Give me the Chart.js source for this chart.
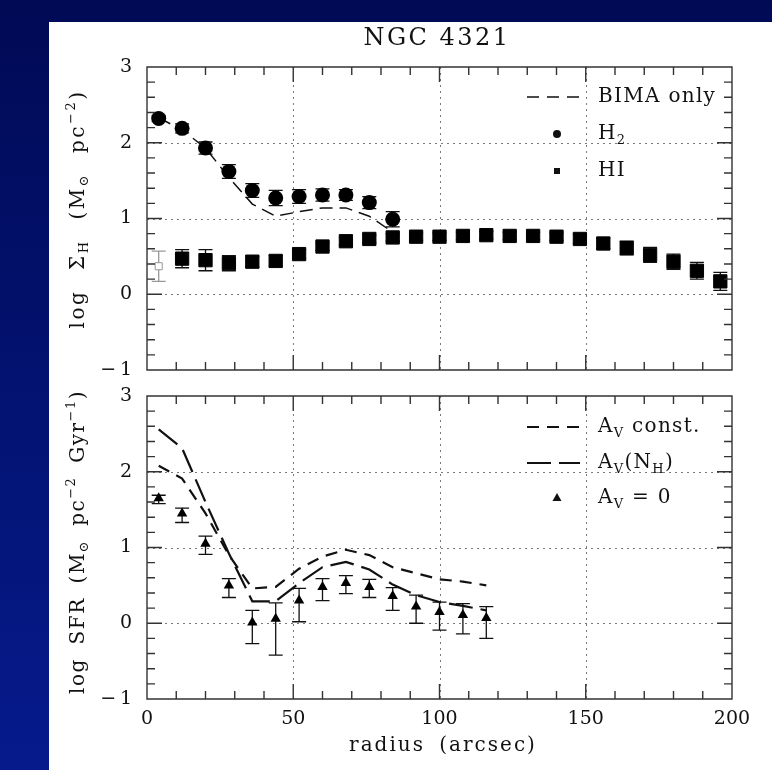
<!DOCTYPE html>
<html>
<head>
<meta charset="utf-8">
<title>NGC 4321</title>
<script src="https://cdn.jsdelivr.net/npm/chart.js@4.4.1/dist/chart.umd.min.js"></script>
<style>
  html, body { margin: 0; padding: 0; }
  body {
    width: 772px; height: 770px; position: relative; overflow: hidden;
    background: linear-gradient(to bottom, #000a55 0%, #061a8c 100%);
  }
  #sheet { position: absolute; left: 49px; top: 22px; right: 0; bottom: 0; background: #fff; }
  canvas { position: absolute; left: 0; top: 0; }
  .lbl {
    position: absolute; white-space: nowrap; color: #111;
    font-family: "DejaVu Serif", serif; transform: translate(-50%, -50%);
  }
  .ytitle { font-size: 20px; letter-spacing: 1.5px; word-spacing: 6px; transform: translate(-50%, -50%) rotate(-90deg); }
  .lbl sub, .lbl sup { font-size: 65%; line-height: 0; }
  .lbl sub { vertical-align: -0.3em; }
  .lbl sup { vertical-align: 0.7em; }
</style>
</head>
<body>
<div id="sheet"></div>
<canvas id="gasChart" width="772" height="770"></canvas>
<canvas id="sfrChart" width="772" height="770"></canvas>

<div class="lbl" style="left:437px; top:37px; font-size:24px; letter-spacing:2.5px;">NGC 4321</div>
<div class="lbl ytitle" style="left:77px; top:209px; letter-spacing:2.5px; word-spacing:11px;">log Σ<sub>H</sub> (M<sub>⊙</sub> pc<sup>−2</sup>)</div>
<div class="lbl ytitle" style="left:77px; top:542px;">log SFR (M<sub>⊙</sub> pc<sup>−2</sup> Gyr<sup>−1</sup>)</div>
<div class="lbl" style="left:443px; top:744px; font-size:20px; letter-spacing:2px; word-spacing:6px;">radius (arcsec)</div>

<script>
// gas surface densities per radial bin (arcsec)
const radiusH2 = [4, 12, 20, 28, 36, 44, 52, 60, 68, 76, 84];
const h2 = [2.32, 2.19, 1.93, 1.62, 1.37, 1.27, 1.29, 1.31, 1.31, 1.21, 0.99];
const h2Err = [0.04, 0.06, 0.08, 0.09, 0.09, 0.10, 0.09, 0.08, 0.07, 0.08, 0.10];
const bimaOnly = [2.33, 2.17, 1.93, 1.54, 1.19, 1.03, 1.09, 1.14, 1.14, 1.03, 0.82];

const radiusHI = [4, 12, 20, 28, 36, 44, 52, 60, 68, 76, 84, 92, 100, 108, 116, 124, 132, 140, 148, 156, 164, 172, 180, 188, 196];
const hi = [0.37, 0.47, 0.45, 0.41, 0.43, 0.44, 0.53, 0.63, 0.70, 0.73, 0.75, 0.76, 0.76, 0.77, 0.78, 0.77, 0.77, 0.76, 0.73, 0.67, 0.61, 0.52, 0.43, 0.31, 0.17];
const hiErr = [0.20, 0.12, 0.14, 0.10, 0.07, 0.07, 0.06, 0.05, 0.05, 0.05, 0.05, 0.05, 0.05, 0.05, 0.05, 0.05, 0.05, 0.05, 0.06, 0.07, 0.09, 0.10, 0.10, 0.11, 0.12];

// star formation rate
const radiusSFR = [4, 12, 20, 28, 36, 44, 52, 60, 68, 76, 84, 92, 100, 108, 116];
const sfrAv0 = [1.65, 1.45, 1.05, 0.50, 0.01, 0.06, 0.30, 0.48, 0.53, 0.48, 0.36, 0.22, 0.15, 0.11, 0.07];
const sfrAv0Low = [1.58, 1.33, 0.91, 0.34, -0.27, -0.42, 0.02, 0.30, 0.39, 0.34, 0.17, 0.00, -0.09, -0.14, -0.20];
const sfrAv0High = [1.69, 1.52, 1.15, 0.59, 0.17, 0.27, 0.46, 0.59, 0.63, 0.58, 0.47, 0.37, 0.28, 0.26, 0.22];
const sfrAvConst = [2.08, 1.91, 1.45, 0.90, 0.46, 0.48, 0.72, 0.88, 0.97, 0.90, 0.74, 0.66, 0.58, 0.55, 0.50];
const sfrAvNH = [2.56, 2.31, 1.60, 0.92, 0.29, 0.29, 0.53, 0.74, 0.81, 0.71, 0.51, 0.37, 0.28, 0.23, 0.17];

const xTicks = [0, 50, 100, 150, 200];
const yTicks = [-1, 0, 1, 2, 3];

const FONT = '"DejaVu Serif", serif';
const pts = (xs, ys) => xs.map((x, i) => ({x, y: ys[i]}));

// dotted grid at the labelled values, then the frame with inward ticks on all sides
const frame = {
  id: 'frame',
  beforeDatasetsDraw(chart) {
    const {ctx, chartArea: a, scales: {x, y}} = chart;
    ctx.save();
    ctx.strokeStyle = '#7a7a7a';
    ctx.lineWidth = 1;
    ctx.setLineDash([2, 4]);
    ctx.beginPath();
    xTicks.slice(1, -1).forEach(v => {
      const px = Math.round(x.getPixelForValue(v)) + 0.5;
      ctx.moveTo(px, a.top); ctx.lineTo(px, a.bottom);
    });
    yTicks.slice(1, -1).forEach(v => {
      const py = Math.round(y.getPixelForValue(v)) + 0.5;
      ctx.moveTo(a.left, py); ctx.lineTo(a.right, py);
    });
    ctx.stroke();
    ctx.restore();
  },
  afterDatasetsDraw(chart) {
    const {ctx, chartArea: a, scales: {x, y}} = chart;
    ctx.save();
    ctx.strokeStyle = '#333';
    ctx.lineWidth = 1.4;
    ctx.beginPath();
    for (let v = 0; v <= 200; v += 10) {
      const px = x.getPixelForValue(v), len = v % 50 === 0 ? 15 : 8;
      ctx.moveTo(px, a.bottom); ctx.lineTo(px, a.bottom - len);
      ctx.moveTo(px, a.top); ctx.lineTo(px, a.top + len);
    }
    for (let k = -5; k <= 15; k++) {
      const py = y.getPixelForValue(k / 5), len = k % 5 === 0 ? 15 : 8;
      ctx.moveTo(a.left, py); ctx.lineTo(a.left + len, py);
      ctx.moveTo(a.right, py); ctx.lineTo(a.right - len, py);
    }
    ctx.rect(a.left, a.top, a.width, a.height);
    ctx.stroke();
    ctx.restore();
  }
};

// vertical error bars with caps, read from errLow / errHigh on each dataset
const errorBars = {
  id: 'errorBars',
  beforeDatasetsDraw(chart) {
    const {ctx, scales: {x, y}} = chart;
    ctx.save();
    ctx.lineWidth = 1.3;
    chart.data.datasets.forEach(ds => {
      if (!ds.errLow) return;
      ds.data.forEach((p, i) => {
        const px = x.getPixelForValue(p.x);
        const lo = y.getPixelForValue(ds.errLow[i]);
        const up = y.getPixelForValue(ds.errHigh[i]);
        ctx.strokeStyle = (ds.errColor && ds.errColor[i]) || '#111';
        ctx.beginPath();
        ctx.moveTo(px, lo); ctx.lineTo(px, up);
        ctx.moveTo(px - 7, lo); ctx.lineTo(px + 7, lo);
        ctx.moveTo(px - 7, up); ctx.lineTo(px + 7, up);
        ctx.stroke();
      });
    });
    ctx.restore();
  }
};

function drawRich(ctx, parts, x, y) {
  ctx.textBaseline = 'middle';
  ctx.textAlign = 'left';
  ctx.letterSpacing = '1.3px';
  parts.forEach(([t, sub]) => {
    ctx.font = (sub ? 13 : 20) + 'px ' + FONT;
    ctx.fillText(t, x, sub ? y + 7 : y);
    x += ctx.measureText(t).width;
  });
}

// key in the upper right corner of each panel
const keyBox = {
  id: 'keyBox',
  afterDraw(chart, args, opts) {
    const {ctx, chartArea: a} = chart;
    ctx.save();
    ctx.strokeStyle = ctx.fillStyle = '#111';
    opts.items.forEach(it => {
      const cy = a.top + it.dy, cx = a.left + 410;
      if (it.dash) {
        ctx.lineWidth = it.width;
        ctx.setLineDash(it.dash);
        ctx.beginPath();
        ctx.moveTo(a.left + 380, cy); ctx.lineTo(a.left + 433, cy);
        ctx.stroke();
        ctx.setLineDash([]);
      } else {
        ctx.beginPath();
        if (it.marker === 'circle') ctx.arc(cx, cy, 4, 0, Math.PI * 2);
        if (it.marker === 'rect') ctx.rect(cx - 3, cy - 3, 6, 6);
        if (it.marker === 'triangle') { ctx.moveTo(cx, cy - 5); ctx.lineTo(cx + 4.5, cy + 3); ctx.lineTo(cx - 4.5, cy + 3); ctx.closePath(); }
        ctx.fill();
      }
      drawRich(ctx, it.label, a.left + 451, cy);
    });
    ctx.restore();
  }
};

function axes(xHeight, showX) {
  return {
    x: {
      type: 'linear', min: 0, max: 200,
      grid: {display: false, drawTicks: false}, border: {display: false},
      afterBuildTicks: s => { s.ticks = xTicks.map(v => ({value: v})); },
      afterFit: s => { s.height = xHeight; },
      ticks: {display: showX, padding: 9, color: '#111', font: {family: FONT, size: 19}}
    },
    y: {
      type: 'linear', min: -1, max: 3,
      grid: {display: false, drawTicks: false}, border: {display: false},
      afterBuildTicks: s => { s.ticks = yTicks.map(v => ({value: v})); },
      afterFit: s => { s.width = 147; },
      ticks: {
        padding: 15, color: '#111', font: {family: FONT, size: 19},
        callback: v => v < 0 ? '\u2212\u2009' + Math.abs(v) : String(v)
      }
    }
  };
}

new Chart(document.getElementById('gasChart'), {
  type: 'scatter',
  data: {
    datasets: [
      {
        label: 'H2', data: pts(radiusH2, h2), order: 0,
        errLow: h2.map((v, i) => v - h2Err[i]), errHigh: h2.map((v, i) => v + h2Err[i]),
        pointStyle: 'circle', pointRadius: 7.5, backgroundColor: '#000', borderWidth: 0
      },
      {
        label: 'HI', data: pts(radiusHI, hi), order: 0,
        errLow: hi.map((v, i) => v - hiErr[i]), errHigh: hi.map((v, i) => v + hiErr[i]),
        errColor: radiusHI.map((r, i) => i === 0 ? '#999' : '#111'),
        pointStyle: 'rect',
        pointRadius: ctx => ctx.dataIndex === 0 ? 5 : 9.4,
        backgroundColor: ctx => ctx.dataIndex === 0 ? '#fff' : '#000',
        borderColor: ctx => ctx.dataIndex === 0 ? '#999' : '#000',
        borderWidth: 1
      },
      {
        label: 'BIMA only', data: pts(radiusH2, bimaOnly), order: 2,
        showLine: true, borderColor: '#111', borderWidth: 1.5, borderDash: [13, 7],
        pointRadius: 0, tension: 0
      }
    ]
  },
  options: {
    responsive: false, animation: false,
    layout: {padding: {top: 67, bottom: 400, left: 0, right: 40}},
    scales: axes(0, false),
    plugins: {
      legend: {display: false}, tooltip: {enabled: false},
      keyBox: {items: [
        {dy: 30, dash: [12, 8], width: 1.5, label: [['BIMA only']]},
        {dy: 67, marker: 'circle', label: [['H'], ['2', true]]},
        {dy: 104, marker: 'rect', label: [['HI']]}
      ]}
    }
  },
  plugins: [frame, errorBars, keyBox]
});

new Chart(document.getElementById('sfrChart'), {
  type: 'scatter',
  data: {
    datasets: [
      {
        label: 'Av = 0', data: pts(radiusSFR, sfrAv0), order: 0,
        errLow: sfrAv0Low, errHigh: sfrAv0High,
        pointStyle: 'triangle', pointRadius: 6, backgroundColor: '#000', borderWidth: 0
      },
      {
        label: 'Av const.', data: pts(radiusSFR, sfrAvConst), order: 2,
        showLine: true, borderColor: '#111', borderWidth: 2.2, borderDash: [12, 8],
        pointRadius: 0, tension: 0
      },
      {
        label: 'Av(NH)', data: pts(radiusSFR, sfrAvNH), order: 2,
        showLine: true, borderColor: '#111', borderWidth: 2.2, borderDash: [24, 8],
        pointRadius: 0, tension: 0
      }
    ]
  },
  options: {
    responsive: false, animation: false,
    layout: {padding: {top: 396, bottom: 0, left: 0, right: 40}},
    scales: axes(71, true),
    plugins: {
      legend: {display: false}, tooltip: {enabled: false},
      keyBox: {items: [
        {dy: 31, dash: [12, 8], width: 2.2, label: [['A'], ['V', true], [' const.']]},
        {dy: 67, dash: [24, 8], width: 2.2, label: [['A'], ['V', true], ['(N'], ['H', true], [')']]},
        {dy: 102, marker: 'triangle', label: [['A'], ['V', true], [' = 0']]}
      ]}
    }
  },
  plugins: [frame, errorBars, keyBox]
});
</script>
</body>
</html>
